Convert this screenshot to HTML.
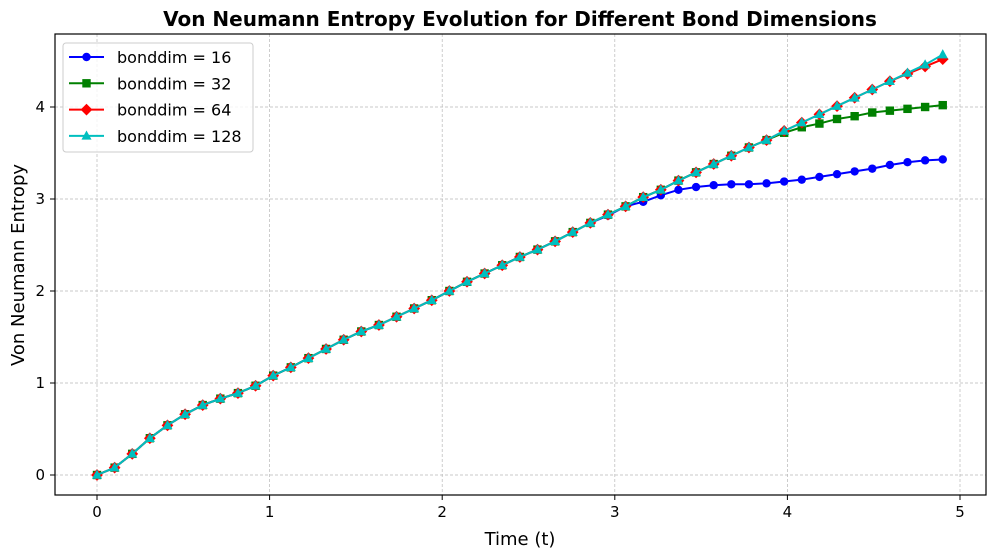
<!DOCTYPE html>
<html><head><meta charset="utf-8"><style>
body{margin:0;background:#fff;}
svg{display:block;font-family:"DejaVu Sans","Liberation Sans",sans-serif;}
</style></head><body>
<svg id="chart" width="994" height="558" viewBox="0 0 994 558" xmlns="http://www.w3.org/2000/svg">
<rect x="0" y="0" width="994" height="558" fill="#fff"/>
<text x="520" y="26" text-anchor="middle" font-size="20" font-weight="bold">Von Neumann Entropy Evolution for Different Bond Dimensions</text>
<g id="grid"></g>
<g id="series"></g>
<rect x="55" y="34" width="931" height="461" fill="none" stroke="#000" stroke-width="1.2"/>
<g id="axes"></g>
<text x="520" y="545" text-anchor="middle" font-size="18">Time (t)</text>
<text transform="translate(24,265) rotate(-90)" text-anchor="middle" font-size="18">Von Neumann Entropy</text>
<g id="legend"></g>
</svg>
<script>
const labels = ["bonddim = 16","bonddim = 32","bonddim = 64","bonddim = 128"];
const xTicks = [0,1,2,3,4,5];
const yTicks = [0,1,2,3,4];
const base = [0,0.08,0.23,0.40,0.54,0.66,0.76,0.83,0.89,0.97,1.08,1.17,1.27,1.37,1.47,1.56,1.63,1.72,1.81,1.90,2.00,2.10,2.19,2.28,2.37,2.45,2.54,2.64,2.74,2.83,2.92,3.02,3.10,3.20,3.29,3.38,3.47,3.56,3.64,3.74,3.83,3.92,4.01,4.10,4.19,4.28,4.37,4.46,4.57];
const s16 = [0,0.08,0.23,0.40,0.54,0.66,0.76,0.83,0.89,0.97,1.08,1.17,1.27,1.37,1.47,1.56,1.63,1.72,1.81,1.90,2.00,2.10,2.19,2.28,2.37,2.45,2.54,2.64,2.74,2.82,2.92,2.97,3.04,3.10,3.13,3.15,3.16,3.16,3.17,3.19,3.21,3.24,3.27,3.30,3.33,3.37,3.40,3.42,3.43];
const s32 = [0,0.08,0.23,0.40,0.54,0.66,0.76,0.83,0.89,0.97,1.08,1.17,1.27,1.37,1.47,1.56,1.63,1.72,1.81,1.90,2.00,2.10,2.19,2.28,2.37,2.45,2.54,2.64,2.74,2.83,2.92,3.02,3.10,3.20,3.29,3.38,3.47,3.56,3.64,3.72,3.78,3.82,3.87,3.90,3.94,3.96,3.98,4.00,4.02];
const s64 = [0,0.08,0.23,0.40,0.54,0.66,0.76,0.83,0.89,0.97,1.08,1.17,1.27,1.37,1.47,1.56,1.63,1.72,1.81,1.90,2.00,2.10,2.19,2.28,2.37,2.45,2.54,2.64,2.74,2.83,2.92,3.02,3.10,3.20,3.29,3.38,3.47,3.56,3.64,3.74,3.83,3.92,4.01,4.10,4.19,4.28,4.36,4.44,4.52];
const s128 = base;
const tMax = 4.9;

const NS="http://www.w3.org/2000/svg";
const X0=55,X1=986,Y0=34,Y1=495;
function xs(t){return 97+t*172.6;}
function ys(v){return 475-v*92;}
function mk(tag,attrs,parent){const e=document.createElementNS(NS,tag);for(const k in attrs)e.setAttribute(k,attrs[k]);parent.appendChild(e);return e;}
const grid=document.getElementById('grid'),axes=document.getElementById('axes'),ser=document.getElementById('series'),leg=document.getElementById('legend');
xTicks.forEach(t=>{
  const x=xs(t);
  const g=mk('line',{x1:x,x2:x,y1:Y0,y2:Y1,stroke:'#b8b8b8','stroke-width':0.7,'stroke-dasharray':'3,2'},grid);
  
  
  mk('line',{x1:x,x2:x,y1:Y1,y2:Y1+5,stroke:'#000'},axes);
  const l=mk('text',{x:x,y:Y1+22,'text-anchor':'middle','font-size':15},axes);
  l.textContent=t;
  
  
});
yTicks.forEach(v=>{
  const y=ys(v);
  const g=mk('line',{x1:X0,x2:X1,y1:y,y2:y,stroke:'#b8b8b8','stroke-width':0.7,'stroke-dasharray':'3,2'},grid);
  
  
  mk('line',{x1:X0-5,x2:X0,y1:y,y2:y,stroke:'#000'},axes);
  const l=mk('text',{x:X0-10,y:y+5,'text-anchor':'end','font-size':15},axes);
  l.textContent=v;
  
  
});
function marker(kind,x,y,color,parent,sz){
  let e;
  if(kind==='o') e=mk('circle',{cx:x,cy:y,r:sz,fill:color},parent);
  else if(kind==='s') e=mk('rect',{x:x-sz,y:y-sz,width:2*sz,height:2*sz,fill:color},parent);
  else if(kind==='D') e=mk('polygon',{points:`${x},${y-sz*1.4} ${x+sz*1.4},${y} ${x},${y+sz*1.4} ${x-sz*1.4},${y}`,fill:color},parent);
  else e=mk('polygon',{points:`${x},${y-sz*1.3} ${x+sz*1.2},${y+sz*0.9} ${x-sz*1.2},${y+sz*0.9}`,fill:color},parent);
  return e;
}
const all=[s16,s32,s64,s128],colors=['#0000ff','#008000','#ff0000','#00bfbf'],kinds=['o','s','D','^'];
const names=['bonddim-16','bonddim-32','bonddim-64','bonddim-128'];
all.forEach((s,i)=>{
  const n=s.length;
  const pts=s.map((v,j)=>xs(j*tMax/(n-1))+','+ys(v)).join(' ');
  const g=mk('g',{},ser);
  
  
  const pl=mk('polyline',{points:pts,fill:'none',stroke:colors[i],'stroke-width':2},g);
  
  
  s.forEach((v,j)=>{
    const m=marker(kinds[i],xs(j*tMax/(n-1)),ys(v),colors[i],g,4.2);
    
    
  });
});
const box=mk('rect',{x:63,y:43,width:190,height:109,rx:3,fill:'#fff','fill-opacity':0.8,stroke:'#ccc'},leg);


labels.forEach((lab,i)=>{
  const y=57+i*26.3;
  const g=mk('g',{},leg);
  
  
  mk('line',{x1:69,x2:104,y1:y,y2:y,stroke:colors[i],'stroke-width':2},g);
  marker(kinds[i],86.5,y,colors[i],g,4.2);
  const t=mk('text',{x:117,y:y+6,'font-size':16},g);
  t.textContent=lab;
});
</script>
</body></html>
